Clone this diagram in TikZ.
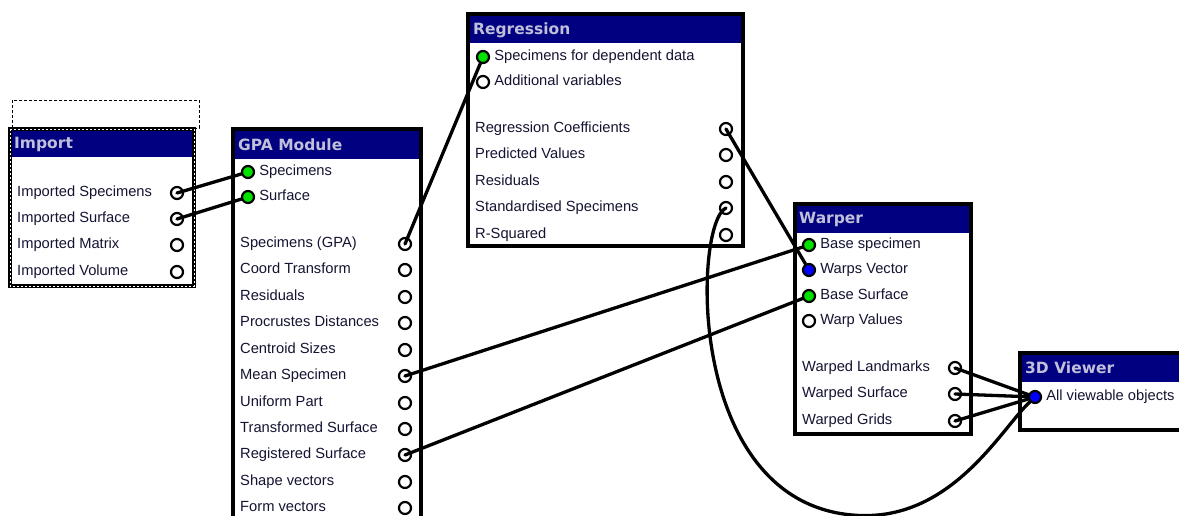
\documentclass[tikz,border=0pt]{standalone}
\usepackage{fontspec}
\setmainfont{Liberation Sans}
\newfontfamily\ttlfont{DejaVu Sans}
\usetikzlibrary{positioning}

\definecolor{barblue}{RGB}{0,0,128}
\definecolor{ttlgrey}{RGB}{192,192,218}
\definecolor{lbltext}{RGB}{20,20,50}
\definecolor{ingreen}{RGB}{0,225,0}
\definecolor{inblue}{RGB}{0,0,255}

\tikzset{
	modbox/.style={draw=black,line width=3.5pt,fill=white},
	modbar/.style={fill=barblue},
	ttl/.style={anchor=west,inner sep=0pt,text=ttlgrey,font=\ttlfont\bfseries\fontsize{15.5}{17}\selectfont},
	lbl/.style={anchor=west,inner sep=0pt,text=lbltext,font=\fontsize{14.7}{16}\selectfont,text height=10.5pt,text depth=3pt},
	port/.style={circle,draw=black,line width=2.2pt,fill=white,minimum size=12pt,inner sep=0pt},
	inport/.style={port,fill=ingreen},
	vecport/.style={port,fill=inblue},
	wire/.style={line width=3.3pt,line cap=round}
}

\begin{document}
\begin{tikzpicture}[x=1pt,y=-1pt]
	\useasboundingbox (0,0) rectangle (1179,516);
	\clip (0,0) rectangle (1179,516);

	% module frames
	\draw[line width=0.8pt,dash pattern=on 3pt off 2pt] (12,100) rectangle (199,128);
	\fill[white] (10,129) rectangle (194,286);
	\fill[modbar] (10,129) rectangle (194,157);
	\draw[line width=3.5pt] (10,129) rectangle (194,286);
	\draw[white,line width=0.9pt,dash pattern=on 2pt off 2pt] (10,129) rectangle (194,286);

	\fill[white] (233,129) rectangle (421,540);
	\fill[modbar] (233,129) rectangle (421,159);
	\draw[line width=3.5pt] (233,129) rectangle (421,540);

	\fill[white] (468,14) rectangle (743,246);
	\fill[modbar] (468,14) rectangle (743,43);
	\draw[line width=3.5pt] (468,14) rectangle (743,246);

	\fill[white] (795,204) rectangle (971,434);
	\fill[modbar] (795,204) rectangle (971,233);
	\draw[line width=3.5pt] (795,204) rectangle (971,434);

	\fill[white] (1020,353) rectangle (1200,430);
	\fill[modbar] (1020,353) rectangle (1200,382);
	\draw[line width=3.5pt] (1020,353) rectangle (1200,430);

	% titles
	\node[ttl] (impT) at (14,144) {Import};
	\node[ttl] (gpaT) at (238,145) {GPA Module};
	\node[ttl] (regT) at (473,30) {Regression};
	\node[ttl] (wrpT) at (799,219) {Warper};
	\node[ttl] (viewT) at (1025,368) {3D Viewer};

	% Import
	\node[lbl] (impSpecL) at (17,193) {Imported Specimens};
	\node[lbl] (impSurfL) at (17,219) {Imported Surface};
	\node[lbl] (impMatL) at (17,245) {Imported Matrix};
	\node[lbl] (impVolL) at (17,272) {Imported Volume};
	\node[port] (impSpec) at (177,193) {};
	\node[port] (impSurf) at (177,219) {};
	\node[port] (impMat) at (177,245) {};
	\node[port] (impVol) at (177,272) {};

	% GPA Module
	\node[inport] (gpaIn) at (248,172) {};
	\node[inport] (gpaSurfIn) at (248,197) {};
	\node[lbl,right=4pt of gpaIn] (gpaInL) {Specimens};
	\node[lbl,right=4pt of gpaSurfIn] (gpaSurfInL) {Surface};
	\node[lbl] (gpaSpecL) at (240,244) {Specimens (GPA)};
	\node[lbl] (gpaCoordL) at (240,270) {Coord Transform};
	\node[lbl] (gpaResL) at (240,297) {Residuals};
	\node[lbl] (gpaProcL) at (240,323) {Procrustes Distances};
	\node[lbl] (gpaCentL) at (240,350) {Centroid Sizes};
	\node[lbl] (gpaMeanL) at (240,376) {Mean Specimen};
	\node[lbl] (gpaUnifL) at (240,403) {Uniform Part};
	\node[lbl] (gpaTrfL) at (240,429) {Transformed Surface};
	\node[lbl] (gpaRegL) at (240,455) {Registered Surface};
	\node[lbl] (gpaShapeL) at (240,482) {Shape vectors};
	\node[lbl] (gpaFormL) at (240,508) {Form vectors};
	\node[port] (gpaSpec) at (405,244) {};
	\node[port] (gpaCoord) at (405,270) {};
	\node[port] (gpaRes) at (405,297) {};
	\node[port] (gpaProc) at (405,323) {};
	\node[port] (gpaCent) at (405,350) {};
	\node[port] (gpaMean) at (405,376) {};
	\node[port] (gpaUnif) at (405,403) {};
	\node[port] (gpaTrf) at (405,429) {};
	\node[port] (gpaReg) at (405,455) {};
	\node[port] (gpaShape) at (405,482) {};
	\node[port] (gpaForm) at (405,508) {};

	% Regression
	\node[inport] (regIn) at (483,57) {};
	\node[port] (regAdd) at (483,82) {};
	\node[lbl,right=4pt of regIn] (regInL) {Specimens for dependent data};
	\node[lbl,right=4pt of regAdd] (regAddL) {Additional variables};
	\node[lbl] (regCoefL) at (475,129) {Regression Coefficients};
	\node[lbl] (regPredL) at (475,155) {Predicted Values};
	\node[lbl] (regResL) at (475,182) {Residuals};
	\node[lbl] (regStdL) at (475,208) {Standardised Specimens};
	\node[lbl] (regRsqL) at (475,235) {R-Squared};
	\node[port] (regCoef) at (726,129) {};
	\node[port] (regPred) at (726,155) {};
	\node[port] (regRes) at (726,182) {};
	\node[port] (regStd) at (726,208) {};
	\node[port] (regRsq) at (726,235) {};

	% Warper
	\node[inport] (wrpBase) at (809,245) {};
	\node[vecport] (wrpVec) at (809,270) {};
	\node[inport] (wrpSurf) at (809,296) {};
	\node[port] (wrpVal) at (809,321) {};
	\node[lbl,right=4pt of wrpBase] (wrpBaseL) {Base specimen};
	\node[lbl,right=4pt of wrpVec] (wrpVecL) {Warps Vector};
	\node[lbl,right=4pt of wrpSurf] (wrpSurfL) {Base Surface};
	\node[lbl,right=4pt of wrpVal] (wrpValL) {Warp Values};
	\node[lbl] (wrpLmkL) at (802,368) {Warped Landmarks};
	\node[lbl] (wrpWSurfL) at (802,394) {Warped Surface};
	\node[lbl] (wrpGridL) at (802,421) {Warped Grids};
	\node[port] (wrpLmk) at (955,368) {};
	\node[port] (wrpWSurf) at (955,394) {};
	\node[port] (wrpGrid) at (955,421) {};

	% 3D Viewer
	\node[vecport] (viewIn) at (1035,397) {};
	\node[lbl,right=4pt of viewIn] (viewInL) {All viewable objects};

	% connections
	\draw[wire] (impSpec.center) -- (gpaIn);
	\draw[wire] (impSurf.center) -- (gpaSurfIn);
	\draw[wire] (gpaSpec.center) -- (regIn);
	\draw[wire] (gpaMean.center) -- (wrpBase);
	\draw[wire] (gpaReg.center) -- (wrpSurf);
	\draw[wire] (regCoef.center) -- (wrpVec);
	\draw[wire] (wrpLmk.center) -- (viewIn);
	\draw[wire] (wrpWSurf.center) -- (viewIn);
	\draw[wire] (wrpGrid.center) -- (viewIn);
	\draw[wire] (regStd.center) .. controls (694,222) and (684,500) .. (852,515)
		.. controls (950,524) and (1000,430) .. (viewIn);
\end{tikzpicture}
\end{document}
